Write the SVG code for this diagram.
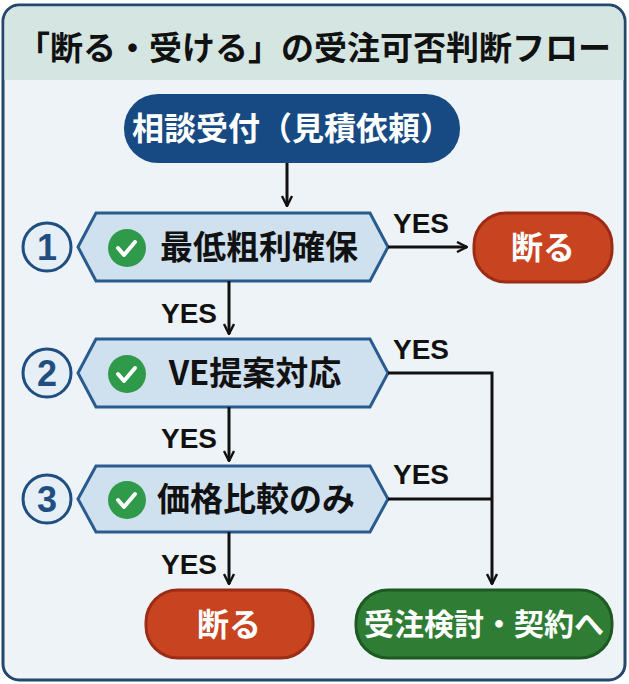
<svg xmlns="http://www.w3.org/2000/svg" width="629" height="684" viewBox="0 0 629 684">
<defs>
<marker id="ah" viewBox="0 0 12 12" refX="11" refY="6" markerWidth="12" markerHeight="12" markerUnits="userSpaceOnUse" orient="auto"><path d="M1,1 L11,6 L1,11" fill="none" stroke="#111" stroke-width="2.4"/></marker>
<style>
text{font-family:"Noto Sans CJK JP","Liberation Sans",sans-serif;font-weight:bold;text-anchor:middle}
.hex{fill:#cfe0ef;stroke:#2a5b8f;stroke-width:3}
.num{fill:#e6eef6;stroke:#1f4e80;stroke-width:3}
.numt{fill:#1f4e80;font-size:36px;font-family:"Liberation Sans Narrow","Liberation Sans",sans-serif}
.lbl{fill:#111;font-size:33px}
.yes{fill:#111;font-size:28px;font-family:"Liberation Sans Narrow","Liberation Sans",sans-serif}
.chk{fill:#2e9a4a}
.ck{fill:none;stroke:#fff;stroke-width:4;stroke-linecap:round;stroke-linejoin:round}
.red{fill:#c8431f;stroke:#9c2c16;stroke-width:3}
.grn{fill:#2f7d35;stroke:#1d5a22;stroke-width:3}
.wt{fill:#fff;font-size:32px}
.ln{fill:none;stroke:#111;stroke-width:3}
</style>
</defs>
<rect x="3" y="5" width="622" height="675" rx="16" fill="#eef3f7" stroke="#24476b" stroke-width="3"/>
<path d="M4.5,80 V21 a15,15 0 0 1 15,-14.5 H608.5 a15,15 0 0 1 15,14.5 V80 Z" fill="#d5e6e2"/>
<text x="314" y="60" style="font-size:33px;fill:#111">「断る・受ける」の受注可否判断フロー</text>
<g id="start"><rect x="124" y="94" width="336" height="69" rx="34" fill="#174a83"/><text class="wt" x="292" y="140">相談受付（見積依頼）</text></g>
<g id="q1"><circle class="num" cx="47" cy="247" r="24"/><text class="numt" x="47" y="260">1</text>
<polygon class="hex" points="78,247 96,213 370,213 388,247 370,281 96,281"/>
<circle class="chk" cx="127" cy="248" r="19"/><path class="ck" d="M118,248 l6,7 l11,-13"/>
<text class="lbl" x="259" y="259">最低粗利確保</text></g>
<g id="q2"><circle class="num" cx="47" cy="373" r="24"/><text class="numt" x="47" y="386">2</text>
<polygon class="hex" points="78,373 96,339 370,339 388,373 370,407 96,407"/>
<circle class="chk" cx="127" cy="374" r="19"/><path class="ck" d="M118,374 l6,7 l11,-13"/>
<text class="lbl" x="255" y="385">VE提案対応</text></g>
<g id="q3"><circle class="num" cx="47" cy="499" r="24"/><text class="numt" x="47" y="512">3</text>
<polygon class="hex" points="78,499 96,466 370,466 388,499 370,532 96,532"/>
<circle class="chk" cx="127" cy="500" r="19"/><path class="ck" d="M118,500 l6,7 l11,-13"/>
<text class="lbl" x="256" y="511">価格比較のみ</text></g>
<g id="refuse1"><rect class="red" x="474" y="213" width="138" height="69" rx="32"/><text class="wt" x="543" y="259">断る</text></g>
<g id="refuse2"><rect class="red" x="146" y="590" width="167" height="68" rx="32"/><text class="wt" x="229" y="636">断る</text></g>
<g id="accept"><rect class="grn" x="356" y="590" width="256" height="68" rx="32"/><text class="wt" x="484" y="635" style="font-size:30px">受注検討・契約へ</text></g>
<g id="connectors">
<path class="ln" d="M287,163 V206" marker-end="url(#ah)"/>
<path class="ln" d="M388,247 H467" marker-end="url(#ah)"/>
<path class="ln" d="M229,281 V334" marker-end="url(#ah)"/>
<path class="ln" d="M229,407 V461" marker-end="url(#ah)"/>
<path class="ln" d="M229,532 V584" marker-end="url(#ah)"/>
<path class="ln" d="M388,373 H492 V584" marker-end="url(#ah)"/>
<path class="ln" d="M388,499 H492"/>
<text class="yes" x="421" y="233">YES</text>
<text class="yes" x="189" y="323">YES</text>
<text class="yes" x="421" y="359">YES</text>
<text class="yes" x="189" y="448">YES</text>
<text class="yes" x="421" y="484">YES</text>
<text class="yes" x="189" y="574">YES</text>
</g>
</svg>
